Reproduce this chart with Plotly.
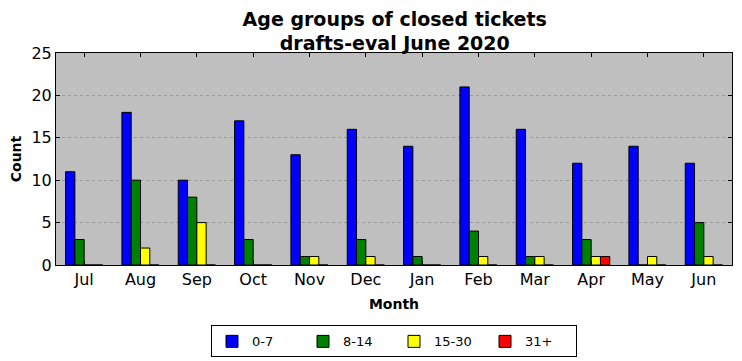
import plotly.graph_objects as go

months = ["Jul", "Aug", "Sep", "Oct", "Nov", "Dec", "Jan", "Feb", "Mar", "Apr", "May", "Jun"]
g0_7 = [11, 18, 10, 17, 13, 16, 14, 21, 16, 12, 14, 12]
g8_14 = [3, 10, 8, 3, 1, 3, 1, 4, 1, 3, 0, 5]
g15_30 = [0, 2, 5, 0, 1, 1, 0, 1, 1, 1, 1, 1]
g31 = [0, 0, 0, 0, 0, 0, 0, 0, 0, 1, 0, 0]

series = [("0-7", g0_7, "#0000ff"), ("8-14", g8_14, "#008000"),
          ("15-30", g15_30, "#ffff00"), ("31+", g31, "#ff0000")]

fig = go.Figure()
for name, vals, col in series:
    fig.add_trace(go.Bar(x=months, y=vals, name=name,
                         marker=dict(color=col, line=dict(color="black", width=1))))

font = "DejaVu Sans"
fig.update_layout(
    width=742, height=361,
    margin=dict(l=56, r=10, t=53, b=96, autoexpand=False),
    paper_bgcolor="white", plot_bgcolor="#bfbfbf",
    barmode="group", bargap=0.34, bargroupgap=0,
    font=dict(family=font, color="black", size=14),
    title=dict(text="<b>Age groups of closed tickets<br>drafts-eval June 2020</b>",
               x=0.532, xanchor="center", yref="container", y=1 - 25.5 / 361,
               yanchor="middle", automargin=False,
               font=dict(size=19, family=font)),
    legend=dict(orientation="h", x=0.5, xanchor="center", y=-0.285, yanchor="top",
                bordercolor="black", borderwidth=1, font=dict(size=13, family=font),
                itemwidth=30, entrywidth=46, traceorder="normal"),
    xaxis=dict(title=dict(text="<b>Month</b>", font=dict(size=14), standoff=10),
               automargin=False,
               showline=True, linecolor="black", linewidth=1, mirror="ticks",
               ticks="inside", ticklen=4, tickcolor="black",
               tickfont=dict(size=16), range=[-0.5, 11.5]),
    yaxis=dict(title=dict(text="<b>Count</b>", font=dict(size=14), standoff=6),
               automargin=False,
               range=[0, 25], dtick=5, showline=True, linecolor="black", linewidth=1,
               mirror="ticks", ticks="inside", ticklen=4, tickcolor="black",
               tickfont=dict(size=16), showgrid=True, gridcolor="#999999",
               griddash="dot", gridwidth=1, zeroline=False),
)
fig.write_html("out.html", config={"displayModeBar": False},
               post_script="document.body.style.margin='0';")
